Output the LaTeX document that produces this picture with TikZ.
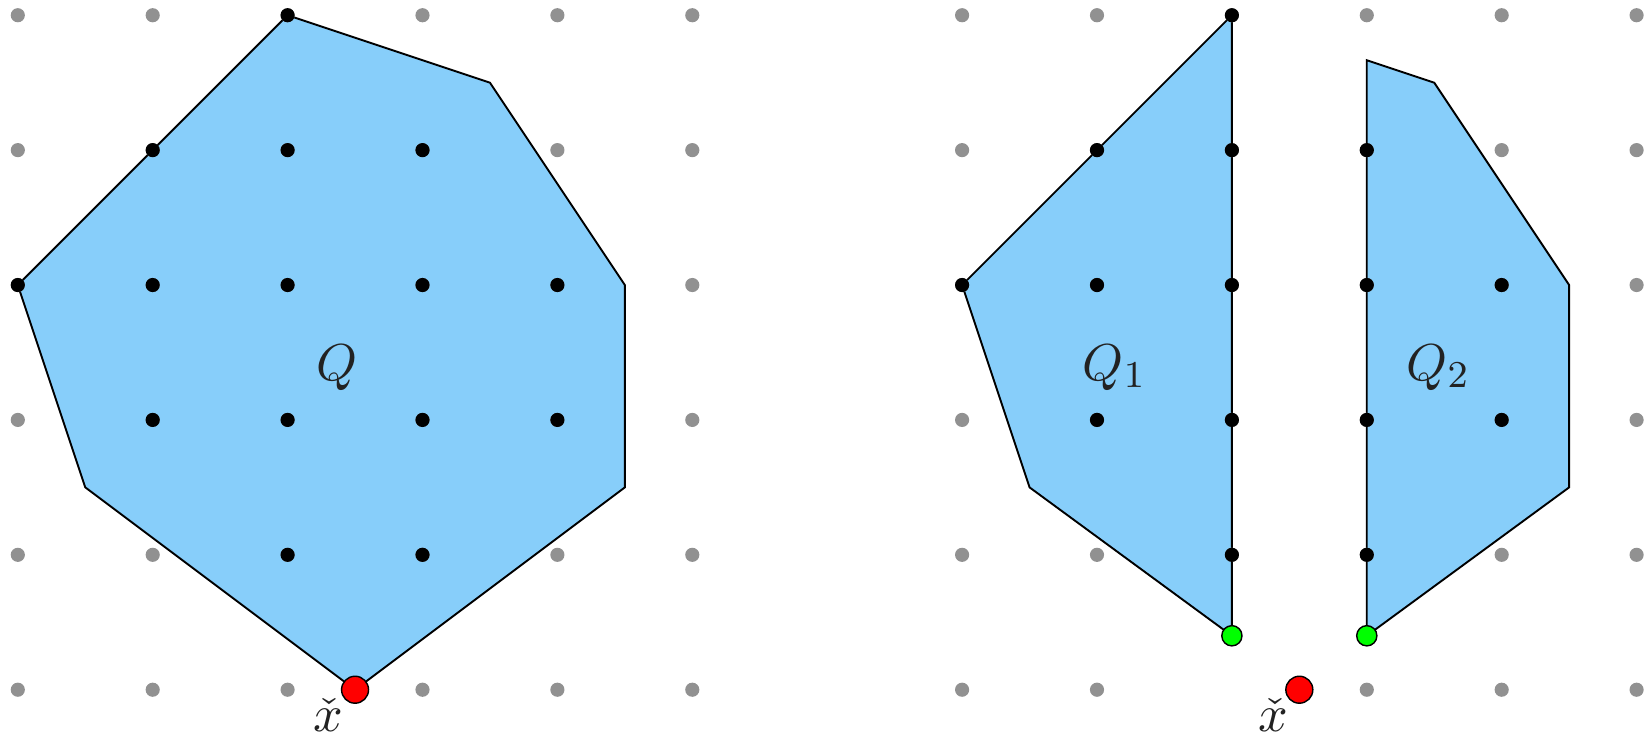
\documentclass[tikz,border=0pt]{standalone}
\usepackage{amsmath}
\definecolor{qfill}{RGB}{135,206,250}
\definecolor{gdot}{RGB}{145,145,145}
\definecolor{txt}{RGB}{34,34,34}
\begin{document}
\begin{tikzpicture}[x=1cm,y=1cm,
  region/.style={fill=qfill,draw=black,line width=0.4pt,line join=miter},
  graypt/.style={circle,fill=gdot,inner sep=0pt,minimum size=0.105cm},
  blackpt/.style={circle,fill=black,inner sep=0pt,minimum size=0.105cm},
  redpt/.style={circle,fill=red,draw=black,line width=0.3pt,inner sep=0pt,minimum size=0.2cm},
  greenpt/.style={circle,fill=green,draw=black,line width=0.3pt,inner sep=0pt,minimum size=0.15cm},
  lbl/.style={text=txt,font=\fontsize{11}{13}\selectfont}]
\useasboundingbox (-0.132,-0.335) rectangle (12.07,5.113);
% left polygon Q
\coordinate (a1) at (2,5);
\coordinate (a2) at (3.5,4.5);
\coordinate (a3) at (4.5,3);
\coordinate (a4) at (4.5,1.5);
\coordinate (a5) at (2.5,0);
\coordinate (a6) at (0.5,1.5);
\coordinate (a7) at (0,3);
\draw[region] (a1) -- (a2) -- (a3) -- (a4) -- (a5) -- (a6) -- (a7) -- cycle;
% right polygons Q1, Q2
\coordinate (b1) at (9,5);
\coordinate (b2) at (9,0.4);
\coordinate (b3) at (7.5,1.5);
\coordinate (b4) at (7,3);
\draw[region] (b1) -- (b2) -- (b3) -- (b4) -- cycle;
\coordinate (c1) at (10,4.6667);
\coordinate (c2) at (10.5,4.5);
\coordinate (c3) at (11.5,3);
\coordinate (c4) at (11.5,1.5);
\coordinate (c5) at (10,0.4);
\draw[region] (c1) -- (c2) -- (c3) -- (c4) -- (c5) -- cycle;
% lattice points, left
\foreach \x in {0,...,5}{\foreach \y in {0,...,5}{
  \node[graypt] (gl-\x-\y) at (\x,\y) {};}}
\foreach \p [count=\i] in {{2,5},{1,4},{2,4},{3,4},{0,3},{1,3},{2,3},{3,3},{4,3},{1,2},{2,2},{3,2},{4,2},{2,1},{3,1}}{
  \node[blackpt] (bl-\i) at (\p) {};}
% lattice points, right
\foreach \x in {7,...,12}{\foreach \y in {0,...,5}{
  \ifnum\x=9 \ifnum\y=0 \else \node[graypt] (gr-\x-\y) at (\x,\y) {};\fi
  \else \node[graypt] (gr-\x-\y) at (\x,\y) {};\fi}}
\foreach \p [count=\i] in {{9,5},{8,4},{9,4},{10,4},{7,3},{8,3},{9,3},{10,3},{11,3},{8,2},{9,2},{10,2},{11,2},{9,1},{10,1}}{
  \node[blackpt] (br-\i) at (\p) {};}
% special points
\node[redpt] (xl) at (a5) {};
\node[redpt] (xr) at (9.5,0) {};
\node[greenpt] (g1) at (b2) {};
\node[greenpt] (g2) at (c5) {};
% labels
\node[lbl] (lq) at (2.37,2.39) {$Q$};
\node[lbl] (lq1) at (8.13,2.39) {$Q_1$};
\node[lbl] (lq2) at (10.53,2.39) {$Q_2$};
\node[lbl,inner sep=0pt] (lxl) at (2.30,-0.19) {$\check{x}$};
\node[lbl,inner sep=0pt] (lxr) at (9.31,-0.19) {$\check{x}$};
\end{tikzpicture}
\end{document}
